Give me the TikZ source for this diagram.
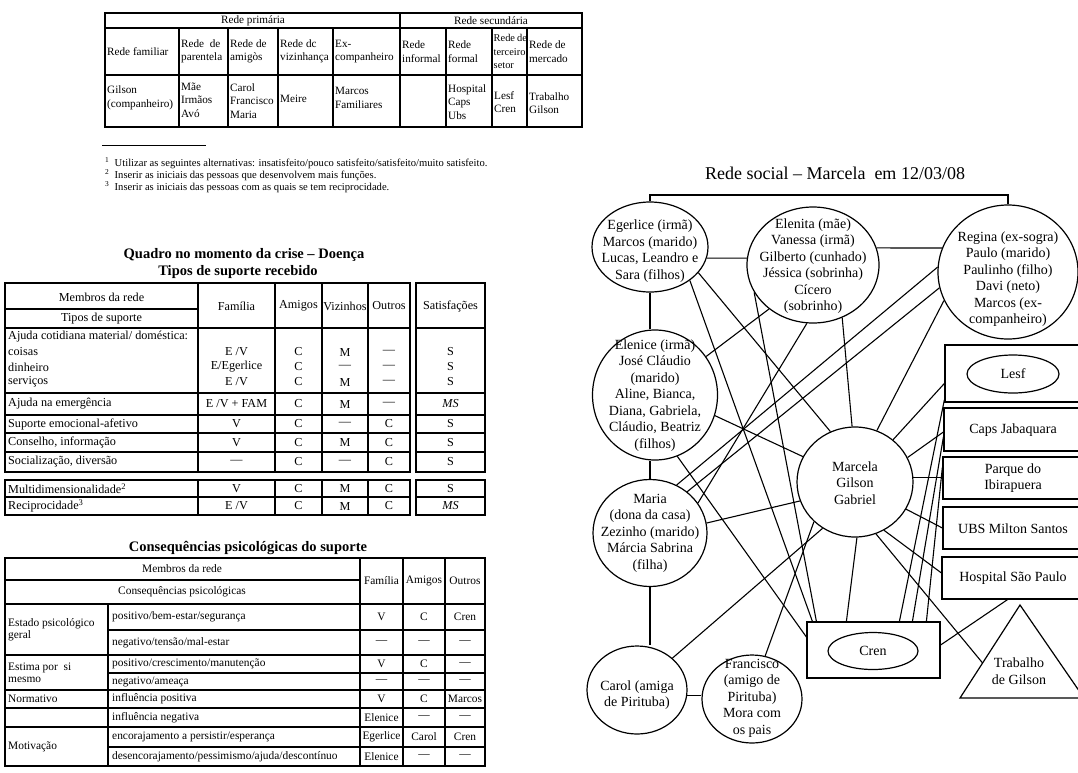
\documentclass[tikz,border=0pt]{standalone}
\usepackage{fontspec}
\setmainfont{Liberation Serif}
\usetikzlibrary{shapes.geometric,calc}

% one row of the support table: name, y, family, friends, neighbours, others, satisfaction
\newcommand\qrow[7]{%
  \node[tabc] (#1-f) at (236.5,#2) {#3};
  \node[tabc] (#1-a) at (298.5,#2) {#4};
  \node[tabc] (#1-v) at (345,#2) {#5};
  \node[tabc] (#1-o) at (389,#2) {#6};
  \node[tabc] (#1-s) at (450.5,#2) {#7};}
% one row of the consequences table: name, y, family, friends, others
\newcommand\crow[5]{%
  \node[ctab] (#1-f) at (381.5,#2) {#3};
  \node[ctab] (#1-a) at (424,#2) {#4};
  \node[ctab] (#1-o) at (465,#2) {#5};}

\begin{document}
\begin{tikzpicture}[x=1pt,y=-1pt,
  rule/.style={line width=1.1pt},
  frame/.style={line width=1.5pt},
  ttab/.style={font=\fontsize{11.2}{13.5}\selectfont, inner sep=0pt, align=left},
  tab/.style={font=\fontsize{12.2}{15}\selectfont, inner sep=0pt, align=left},
  tabc/.style={tab, align=center},
  ctab/.style={font=\fontsize{11.4}{12}\selectfont, inner sep=0pt, align=left},
  ttl/.style={font=\bfseries\fontsize{14.5}{17}\selectfont, inner sep=0pt},
  foot/.style={font=\fontsize{10.6}{12}\selectfont, inner sep=0pt, anchor=base west},
  pers/.style={ellipse, draw, line width=1.2pt, inner sep=0pt},
  perstxt/.style={font=\fontsize{14}{16.5}\selectfont, align=center, inner sep=0pt},
  inst/.style={rectangle, draw, line width=1.2pt, inner sep=0pt},
  insttxt/.style={font=\fontsize{14}{16.5}\selectfont, align=center, inner sep=0pt},
  link/.style={line width=1.1pt}]

\path[use as bounding box] (0,0) rectangle (1078,772);
\fill[white] (0,0) rectangle (1078,772);
\clip (0,0) rectangle (1078,772);

% ---------- network map table ----------
\draw[frame] (105,13) rectangle (582,127);
\draw[rule] (105,28) -- (582,28) (105,75) -- (582,75);
\draw[rule] (400,13) -- (400,127);
\foreach \x in {179,228,278,333,446,492,527} \draw[rule] (\x,28) -- (\x,127);
\node[ttab] (rprim) at (253,20.5) {Rede primária};
\node[ttab] (rsec) at (491,20.5) {Rede secundária};
\node[ttab, anchor=west] (h1) at (107,51.5) {Rede familiar};
\node[ttab, anchor=west] (h2) at (181,51.5) {Rede\enspace de\\parentela};
\node[ttab, anchor=west] (h3) at (230,51.5) {Rede de\\amigòs};
\node[ttab, anchor=west] (h4) at (280,51.5) {Rede dc\\vizinhança};
\node[ttab, anchor=west] (h5) at (335,51.5) {Ex-\\companheiro};
\node[ttab, anchor=west] (h6) at (402,51.5) {Rede\\informal};
\node[ttab, anchor=west] (h7) at (448,51.5) {Rede\\formal};
\node[ttab, anchor=west, font=\fontsize{10.4}{13.5}\selectfont] (h8) at (493.5,51.5) {Rede\hspace{2pt}de\\terceiro\\setor};
\node[ttab, anchor=west] (h9) at (529,51.5) {Rede de\\mercado};
\node[ttab, anchor=west] (v1) at (107,98) {Gilson\\(companheiro)};
\node[ttab, anchor=west] (v2) at (181,100) {Mãe\\Irmãos\\Avó};
\node[ttab, anchor=west] (v3) at (230,101) {Carol\\Francisco\\Maria};
\node[ttab, anchor=west] (v4) at (280,99) {Meire};
\node[ttab, anchor=west] (v5) at (335,98) {Marcos\\Familiares};
\node[ttab, anchor=west] (v7) at (448,102) {Hospital\\Caps\\Ubs};
\node[ttab, anchor=west] (v8) at (494,102) {Lesf\\Cren};
\node[ttab, anchor=west] (v9) at (529,103) {Trabalho\\Gilson};

% ---------- footnotes ----------
\draw[line width=0.8pt] (102,145) -- (206,145);
\node[foot] (f1) at (105,166) {\textsuperscript{1}\enspace Utilizar as seguintes alternativas: insatisfeito/pouco satisfeito/satisfeito/muito satisfeito.};
\node[foot] (f2) at (105,178) {\textsuperscript{2}\enspace Inserir as iniciais das pessoas que desenvolvem mais funções.};
\node[foot] (f3) at (105,190) {\textsuperscript{3}\enspace Inserir as iniciais das pessoas com as quais se tem reciprocidade.};

% ---------- support table ----------
\node[ttl] (qt1) at (244,255) {Quadro no momento da crise – Doença};
\node[ttl] (qt2) at (238,272) {Tipos de suporte recebido};
\draw[frame] (5,283) rectangle (410,472);
\draw[frame] (416,283) rectangle (485,472);
\draw[rule] (5,309) -- (198,309);
\foreach \y in {328,393,415,433,452} \draw[rule] (5,\y) -- (410,\y) (416,\y) -- (485,\y);
\foreach \x in {198,275,322,368} \draw[rule] (\x,283) -- (\x,472);
\draw[frame] (5,480) rectangle (410,515);
\draw[frame] (416,480) rectangle (485,515);
\draw[rule] (5,497) -- (410,497) (416,497) -- (485,497);
\foreach \x in {198,275,322,368} \draw[rule] (\x,480) -- (\x,515);
\node[tabc] (qm) at (101.5,297) {Membros da rede};
\node[tabc] (qs) at (101.5,319) {Tipos de suporte};
\node[tabc] (qhf) at (236.5,306) {Família};
\node[tabc] (qha) at (298.5,306) {Amigos};
\node[tabc] (qhv) at (345,306) {Vizinhos};
\node[tabc] (qho) at (389,306) {Outros};
\node[tabc] (qhs) at (450.5,306) {Satisfações};
\node[tab, anchor=west] (l0) at (8,337) {Ajuda cotidiana material/ doméstica:};
\node[tab, anchor=west] (l1) at (8,352) {coisas};
\node[tab, anchor=west] (l2) at (8,367) {dinheiro};
\node[tab, anchor=west] (l3) at (8,382) {serviços};
\node[tab, anchor=west] (l4) at (8,404) {Ajuda na emergência};
\node[tab, anchor=west] (l5) at (8,424) {Suporte emocional-afetivo};
\node[tab, anchor=west] (l6) at (8,442.5) {Conselho, informação};
\node[tab, anchor=west] (l7) at (8,461.5) {Socialização, diversão};
\node[tab, anchor=west] (l8) at (8,488.5) {Multidimensionalidade\textsuperscript{2}};
\node[tab, anchor=west] (l9) at (8,506) {Reciprocidade\textsuperscript{3}};
\qrow{r1}{352}{E /V}{C}{M}{—}{S}
\qrow{r2}{367}{E/Egerlice}{C}{—}{—}{S}
\qrow{r3}{382}{E /V}{C}{M}{—}{S}
\qrow{r4}{404}{E /V + FAM}{C}{M}{—}{\textit{MS}}
\qrow{r5}{424}{V}{C}{—}{C}{S}
\qrow{r6}{442.5}{V}{C}{M}{C}{S}
\qrow{r7}{461.5}{—}{C}{—}{C}{S}
\qrow{r8}{488.5}{V}{C}{M}{C}{S}
\qrow{r9}{506}{E /V}{C}{M}{C}{\textit{MS}}

% ---------- consequences table ----------
\node[ttl] (ct) at (248,548) {Consequências psicológicas do suporte};
\draw[frame] (5,558) rectangle (485,766);
\draw[rule] (108,604) -- (108,766);
\foreach \x in {360,403,445} \draw[rule] (\x,558) -- (\x,766);
\draw[rule] (5,580) -- (360,580);
\foreach \y in {604,655,690,708,727} \draw[rule] (5,\y) -- (485,\y);
\foreach \y in {630,673,747} \draw[rule] (108,\y) -- (485,\y);
\node[ctab] (cm) at (182,569) {Membros da rede};
\node[ctab] (cc) at (182,592) {Consequências psicológicas};
\node[ctab] (chf) at (381.5,581) {Família};
\node[ctab] (cha) at (424,581) {Amigos};
\node[ctab] (cho) at (465,581) {Outros};
\node[ctab, anchor=west] (k1) at (8,630) {Estado psicológico\\geral};
\node[ctab, anchor=west] (k2) at (8,672.5) {Estima por\enspace si\\mesmo};
\node[ctab, anchor=west] (k3) at (8,699) {Normativo};
\node[ctab, anchor=west] (k4) at (8,747) {Motivação};
\node[ctab, anchor=west] (c1) at (112,617) {positivo/bem-estar/segurança};
\node[ctab, anchor=west] (c2) at (112,642.5) {negativo/tensão/mal-estar};
\node[ctab, anchor=west] (c3) at (112,664) {positivo/crescimento/manutenção};
\node[ctab, anchor=west] (c4) at (112,681.5) {negativo/ameaça};
\node[ctab, anchor=west] (c5) at (112,699) {influência positiva};
\node[ctab, anchor=west] (c6) at (112,717.5) {influência negativa};
\node[ctab, anchor=west] (c7) at (112,737) {encorajamento a persistir/esperança};
\node[ctab, anchor=west] (c8) at (112,756.5) {desencorajamento/pessimismo/ajuda/descontínuo};
\crow{s1}{617}{V}{C}{Cren}
\crow{s2}{642.5}{—}{—}{—}
\crow{s3}{664}{V}{C}{—}
\crow{s4}{681.5}{—}{—}{—}
\crow{s5}{699}{V}{C}{Marcos}
\crow{s6}{717.5}{Elenice}{—}{—}
\crow{s7}{737}{Egerlice}{Carol}{Cren}
\crow{s8}{756.5}{Elenice}{—}{—}

% ---------- social network ----------
\node[font=\fontsize{18}{20}\selectfont, inner sep=0pt] (title) at (835,173) {Rede social – Marcela\enspace em 12/03/08};

\node[pers, minimum width=116pt, minimum height=90pt] (ege) at (650,247) {};
\node[perstxt] (ege-t) at (650,251) {Egerlice (irmã)\\Marcos (marido)\\Lucas, Leandro e\\Sara (filhos)};
\node[pers, minimum width=132pt, minimum height=116pt] (elt) at (813,265) {};
\node[perstxt] (elt-t) at (813,266) {Elenita (mãe)\\Vanessa (irmã)\\Gilberto (cunhado)\\Jéssica (sobrinha)\\Cícero\\(sobrinho)};
\node[pers, minimum width=140pt, minimum height=134pt] (reg) at (1008,272) {};
\node[perstxt] (reg-t) at (1008,279) {Regina (ex-sogra)\\Paulo (marido)\\Paulinho (filho)\\Davi (neto)\\Marcos (ex-\\companheiro)};
\node[pers, minimum width=125pt, minimum height=130pt] (eln) at (655,395) {};
\node[perstxt] (eln-t) at (655,395.5) {Elenice (irmã)\\José Cláudio\\(marido)\\Aline, Bianca,\\Diana, Gabriela,\\Cláudio, Beatriz\\(filhos)};
\node[pers, minimum width=114pt, minimum height=107pt] (mar) at (650,533) {};
\node[perstxt] (mar-t) at (650,533) {Maria\\(dona da casa)\\Zezinho (marido)\\Márcia Sabrina\\(filha)};
\node[pers, minimum width=100pt, minimum height=88pt] (car) at (637,690) {};
\node[perstxt] (car-t) at (637,695) {Carol (amiga\\de Pirituba)};
\node[pers, minimum width=100pt, minimum height=88pt] (fra) at (752,699) {};
\node[perstxt] (fra-t) at (752,698) {Francisco\\(amigo de\\Pirituba)\\Mora com\\os pais};
\node[pers, minimum width=116pt, minimum height=110pt] (mcl) at (855,482) {};
\node[perstxt] (mcl-t) at (855,483) {Marcela\\Gilson\\Gabriel};

\node[inst, minimum width=140pt, minimum height=57pt] (lesf) at (1015,373.5) {};
\node[pers, minimum width=92pt, minimum height=38pt, font=\fontsize{14}{16.5}\selectfont] (lesf-e) at (1013,374) {Lesf};
\node[inst, minimum width=141pt, minimum height=43pt] (caps) at (1014.5,429.5) {};
\node[insttxt] (caps-t) at (1013,430) {Caps Jabaquara};
\node[inst, minimum width=142pt, minimum height=42pt] (parque) at (1014,478) {};
\node[insttxt] (parque-t) at (1013,478) {Parque do\\Ibirapuera};
\node[inst, minimum width=142pt, minimum height=42pt] (ubs) at (1014,528) {};
\node[insttxt] (ubs-t) at (1013,529) {UBS Milton Santos};
\node[inst, minimum width=143pt, minimum height=42pt] (hosp) at (1013.5,578) {};
\node[insttxt] (hosp-t) at (1013,578) {Hospital São Paulo};
\node[inst, minimum width=133pt, minimum height=56pt] (cren) at (873.5,650) {};
\node[pers, minimum width=90pt, minimum height=37pt, font=\fontsize{14}{16.5}\selectfont] (cren-e) at (873,651) {Cren};

\draw[line width=1.2pt] (1020,605) -- (960,698) -- (1084,698) -- cycle;
\node[insttxt] (trab) at (1019,671) {Trabalho\\de Gilson};
\coordinate (trabw) at (982.6,663);
\coordinate (brk) at (830,195);

% family and friends
\draw[link] (ege.north) |- (brk) -| (reg.north);
\draw[link] (ege.-11) -- (elt.174);
\draw[link] (elt.15) -- (reg.160);
\draw[link] (ege.south) -- (ege.south |- eln.north);
\draw[link] (mar.north |- eln.south) -- (mar.north);
\draw[link] (mar.south) -- (mar.south |- car.north);
\draw[link] (car.-6) -- (car.-6 -| fra.west);
\draw[link] (eln.37) -- (elt.225);
\draw[link] (elt.-96) -- (mar.32);
\draw[link] (reg.176) -- (mar.61);
\draw[link] (reg.193) -- (mar.48);
% ties to the household
\draw[link] (ege.-28) -- (mcl.116);
\draw[link] (elt.-61) -- (mcl.93);
\draw[link] (reg.204) -- (mcl.67);
\draw[link] (mcl.154) -- (eln.-19);
\draw[link] (mcl.199) -- (mar.10);
\draw[link] (mcl.235) -- (car.42);
\draw[link] (mcl.224) -- (fra.73);
\draw[link] (lesf.188) -- (mcl.48);
\draw[link] (caps.182) -- (mcl.25);
\draw[link] (mcl.4) -- (mcl.4 -| parque.west);
\draw[link] (ubs.west) -- (mcl.-28);
\draw[link] (hosp.176) -- (mcl.-59);
\draw[link] (mcl.-68) -- (trabw);
\draw[link] (mcl.-88) -- ($(cren.north west)+(40,0)$);
% ties to Cren
\draw[link] (ege.-40) -- ($(cren.north west)+(6,0)$);
\draw[link] (elt.205) -- ($(cren.north west)+(10,0)$);
\draw[link] (eln.-70) -- ($(cren.west)+(0,-13)$);
\draw[link] ($(cren.north west)+(93,0)$) -- ($(lesf.south west)+(0,-3)$);
\draw[link] ($(cren.north west)+(106,0)$) -- ($(caps.west)+(0,7.5)$);
\draw[link] ($(cren.north west)+(120,0)$) -- ($(parque.west)+(0,-11)$);
\draw[link] ($(cren.east)+(0,-5)$) -- ($(hosp.south)+(-6,0)$);
\end{tikzpicture}
\end{document}
